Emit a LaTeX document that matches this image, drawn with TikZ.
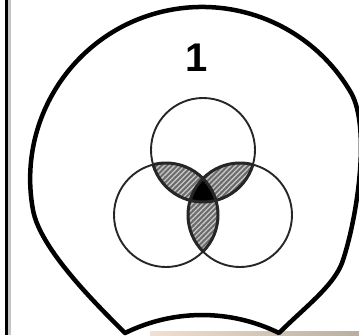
\documentclass[tikz,border=0pt]{standalone}
\usepackage{fontspec}
\setmainfont{Liberation Sans}
\usetikzlibrary{patterns.meta}
\definecolor{beigeA}{RGB}{242,224,210}
\definecolor{beigeB}{RGB}{215,200,185}
\definecolor{beigeC}{RGB}{185,175,160}
\begin{document}
\begin{tikzpicture}[x=1pt,y=-1pt,
  outline/.style={line width=4.5pt, line join=round},
  venn/.style={line width=1.9pt, black!85},
  petaledge/.style={line width=3pt, black!85},
  hatchbase/.style={fill=black!58},
  hatchlines/.style={pattern={Lines[angle=45,distance=3.6pt,line width=1.3pt]}, pattern color=black!22}]
\useasboundingbox (0,0) rectangle (359,335);
% left frame edge
\draw[line width=3pt] (6,0) -- (6,335);
\draw[line width=3pt, gray!45] (9,0) -- (9,335);
% bottom strip
\shade[left color=beigeA, middle color=beigeB, right color=beigeC] (150,331) rectangle (359,335);
% Venn centres
\coordinate (A) at (203,150);
\coordinate (B) at (166,215);
\coordinate (C) at (240,215);
% pairwise intersections (hatched)
\begin{scope}\clip (A) circle[radius=52]; \fill[hatchbase] (B) circle[radius=52]; \fill[hatchlines] (B) circle[radius=52];\end{scope}
\begin{scope}\clip (A) circle[radius=52]; \fill[hatchbase] (C) circle[radius=52]; \fill[hatchlines] (C) circle[radius=52];\end{scope}
\begin{scope}\clip (B) circle[radius=52]; \fill[hatchbase] (C) circle[radius=52]; \fill[hatchlines] (C) circle[radius=52];\end{scope}
% triple intersection (black)
\begin{scope}\clip (A) circle[radius=52]; \clip (B) circle[radius=52]; \fill[black] (C) circle[radius=52];\end{scope}
% circles
\draw[venn] (A) circle[radius=52];
\draw[venn] (B) circle[radius=52];
\draw[venn] (C) circle[radius=52];
% darker petal edges
\begin{scope}\clip (B) circle[radius=52] (C) circle[radius=52]; \draw[petaledge] (A) circle[radius=52];\end{scope}
\begin{scope}\clip (A) circle[radius=52] (C) circle[radius=52]; \draw[petaledge] (B) circle[radius=52];\end{scope}
\begin{scope}\clip (A) circle[radius=52] (B) circle[radius=52]; \draw[petaledge] (C) circle[radius=52];\end{scope}
% outer outline
\coordinate (L) at (125,333);
\coordinate (R) at (279,333);
\draw[outline] (L) .. controls (97,305) and (40,249) .. (33,210)
  arc[start angle=169.6, end angle=330, radius=172]
  .. controls (371,128) and (357,220) .. (342,263)
  .. controls (333,286.5) and (304,308) .. (R)
  arc[start angle=-63.7, end angle=-116.3, radius=173.7] -- cycle;
% label
\node[font=\fontsize{40}{40}\selectfont\bfseries] (num) at (197,58) {1};
\end{tikzpicture}
\end{document}
